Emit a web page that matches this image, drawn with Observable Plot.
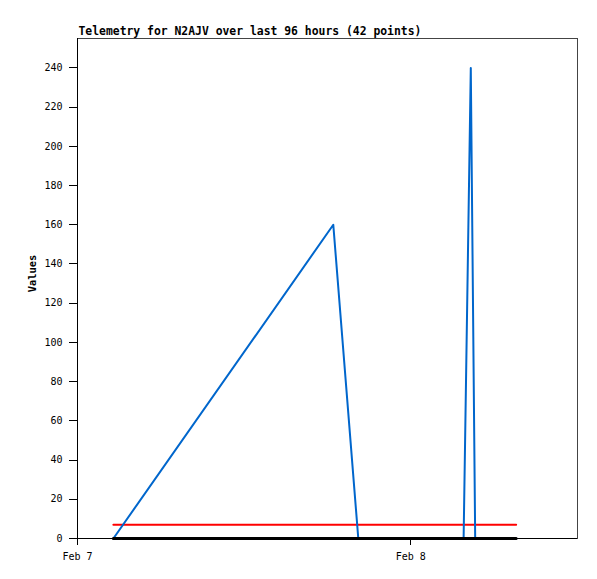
<!DOCTYPE html>
<html>
<head>
<meta charset="utf-8">
<script src="https://cdn.jsdelivr.net/npm/d3@7"></script>
<script src="https://cdn.jsdelivr.net/npm/@observablehq/plot@0.6"></script>
<style>
  html, body { margin: 0; padding: 0; background: #fff; }
  #chart svg { display: block; }
</style>
</head>
<body>
<div id="chart"></div>
<script>
// Sample times (UTC)
const times = [
  "2024-02-07T02:35Z",
  "2024-02-07T18:25Z",
  "2024-02-07T20:13Z",
  "2024-02-08T03:48Z",
  "2024-02-08T04:19Z",
  "2024-02-08T04:38Z",
  "2024-02-08T07:35Z"
];
const blueValues  = [0, 160, 0, 0, 240, 0, 0];
const redValues   = [7, 7, 7, 7, 7, 7, 7];
const blackValues = [0, 0, 0, 0, 0, 0, 0];

const xDomain = ["2024-02-07T00:00Z", "2024-02-08T12:00Z"];
const xTicks = ["2024-02-07T00:00Z", "2024-02-08T00:00Z"];
const yTicks = [0, 20, 40, 60, 80, 100, 120, 140, 160, 180, 200, 220, 240];
const title = "Telemetry for N2AJV over last 96 hours (42 points)";
const yLabel = "Values";

const toRows = (vals) => times.map((t, i) => ({t: new Date(t), v: vals[i]}));
const blue = toRows(blueValues);
const red = toRows(redValues);
const black = toRows(blackValues);

const mono = "'DejaVu Sans Mono', monospace";
const fmt = d3.utcFormat("%b %-d");

const chart = Plot.plot({
  width: 597,
  height: 579,
  marginLeft: 77,
  marginRight: 20,
  marginTop: 38,
  marginBottom: 41,
  style: {fontFamily: mono, fontSize: "10px", background: "#fff", color: "#000"},
  x: {type: "utc", domain: xDomain.map(d => new Date(d)), label: null},
  y: {domain: [0, 255], label: null},
  marks: [
    Plot.frame({stroke: "#444", shapeRendering: "crispEdges"}),
    Plot.axisY({ticks: yTicks, tickSize: 8, tickPadding: 7, label: null, shapeRendering: "crispEdges"}),
    Plot.axisX({ticks: xTicks.map(d => new Date(d)), tickFormat: fmt, tickSize: 7, tickPadding: 7, label: null, shapeRendering: "crispEdges"}),
    Plot.ruleX([new Date(xDomain[0])], {stroke: "#000", shapeRendering: "crispEdges"}),
    Plot.ruleY([0], {stroke: "#000", shapeRendering: "crispEdges"}),
    Plot.lineY(red, {x: "t", y: "v", stroke: "#ff0000", strokeWidth: 2, curve: "linear"}),
    Plot.lineY(blue, {x: "t", y: "v", stroke: "#0066cc", strokeWidth: 2, curve: "linear"}),
    Plot.lineY(black, {x: "t", y: "v", stroke: "#000", strokeWidth: 3, curve: "linear"}),
    Plot.text([title], {frameAnchor: "top-left", text: d => d, dx: 1, dy: -4, textAnchor: "start", lineAnchor: "bottom",
      fontFamily: mono, fontWeight: "bold", fontSize: 11.4, fill: "#000"}),
    Plot.text([yLabel], {frameAnchor: "left", text: d => d, dx: -45, dy: -15, rotate: -90, textAnchor: "middle", lineAnchor: "middle",
      fontFamily: mono, fontWeight: "bold", fontSize: 10.4, fill: "#000"})
  ]
});
document.getElementById("chart").appendChild(chart);
</script>
</body>
</html>
